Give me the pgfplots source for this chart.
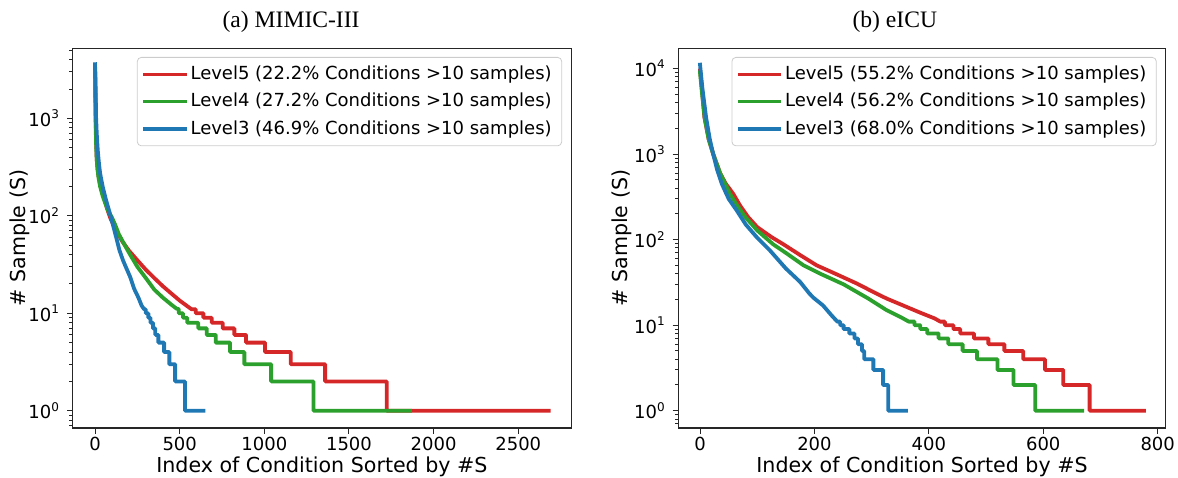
\documentclass[border=0pt]{standalone}
\usepackage{fontspec}
\setmainfont{DejaVu Sans}
\newfontfamily\timesfont{Liberation Serif}
\usepackage{pgfplots}
\pgfplotsset{compat=1.18}
\definecolor{mplred}{HTML}{D62728}
\definecolor{mplgreen}{HTML}{2CA02C}
\definecolor{mplblue}{HTML}{1F77B4}
\pgfplotsset{
  myaxis/.style={
    scale only axis,
    height=189.9pt,
    axis line style={black!85, line width=0.6pt},
    every tick/.style={black!85, line width=0.5pt},
    tick align=outside,
    major tick length=2.8pt,
    minor tick length=1.6pt,
    xtick pos=bottom, ytick pos=left,
    /pgf/number format/assume math mode=true,
    /pgf/number format/1000 sep={},
    scaled x ticks=false,
    xticklabel style={font=\fontsize{9}{11}\selectfont, yshift=2pt},
    yticklabel style={font=\fontsize{9}{11}\selectfont},
    xlabel={Index of Condition Sorted by \#S},
    ylabel={\# Sample (S)},
    label style={font=\fontsize{10.3}{12}\selectfont},
    xlabel style={at={(axis description cs:0.5,0)}, anchor=base, yshift=-22.2pt},
    every axis title shift=0pt,
    title style={font=\timesfont\fontsize{11.8}{14}\selectfont, at={(axis description cs:0.5,1)}, anchor=base, yshift=10.5pt},
    legend cell align=left,
    legend style={font=\fontsize{9}{11}\selectfont, at={(axis description cs:1,1)}, anchor=north east, xshift=-4.5pt, yshift=-4.4pt,
      draw=black!20, rounded corners=2pt, fill=white, fill opacity=0.8, text opacity=1,
      inner xsep=3pt, inner ysep=2.2pt, row sep=1.4pt},
    legend image code/.code={\draw[##1, line width=1.6pt] (0pt,0pt) -- (20pt,0pt);},
    every axis plot/.append style={line width=1.9pt, line join=round, line cap=rect},
  }
}
\begin{document}
\begin{tikzpicture}
\begin{axis}[ymode=log, myaxis,
  width=249.2pt,
  at={(0pt,0pt)},
  xmin=-132, xmax=2812,
  ymin=0.665, ymax=5250,
  xtick={0,500,1000,1500,2000,2500},
  ytick={1,10,100,1000},
  yticklabels={10\textsuperscript{0},10\textsuperscript{1},10\textsuperscript{2},10\textsuperscript{3}},
  minor ytick={0.7,0.8,0.9,2,3,4,5,6,7,8,9,20,30,40,50,60,70,80,90,200,300,400,500,600,700,800,900,2000,3000,4000,5000},
  ylabel style={at={(axis description cs:-0.1055,0.5)}, anchor=center},
  title style={xshift=-15.4pt},
  title={(a) MIMIC-III},
]
\addplot[mplred] coordinates {
(0,3400) (1,2400) (2,1700) (3,1200) (5,800) (7,550) (10,380) (15,300) (20,260) (30,210) (40,180) (55,150) (70,120) (90,95) (110,80) (130,68) (160,55) (200,44) (250,35) (300,28) (350,23) (400,19) (450,16) (500,13.5) (540,12) (570,11) (595,11)
(595,10) (640,10) (640,9) (689,9) (689,8) (754,8) (754,7) (823,7) (823,6) (892,6) (892,5) (1004,5) (1004,4) (1156,4) (1156,3) (1359,3) (1359,2) (1723,2) (1723,1) (2680,1)
};
\addlegendentry{Level5 (22.2\% Conditions >10 samples)}
\addplot[mplgreen] coordinates {
(0,3500) (1,2200) (2,1500) (4,800) (7,500) (10,380) (15,300) (20,250) (30,200) (45,160) (60,135) (80,110) (100,96) (120,80) (140,65) (170,52) (200,42) (250,30) (300,23) (350,17.5) (400,14.5) (450,12.3) (480,11.2) (495,11)
(495,10) (520,10) (520,9) (545,9) (545,8) (610,8) (610,7) (660,7) (660,6) (713,6) (713,5) (797,5) (797,4) (882,4) (882,3) (1040,3) (1040,2) (1290,2) (1290,1) (1860,1)
};
\addlegendentry{Level4 (27.2\% Conditions >10 samples)}
\addplot[mplblue] coordinates {
(0,3600) (1,2900) (3,2290) (6,1035) (10,700) (16,470) (22,360) (30,272) (45,200) (65,145) (85,110) (104,83) (125,60) (144,44.5) (165,35) (185,29) (207,23.7) (230,18) (256,14.5) (275,12) (290,11) (300,11)
(300,10) (315,10) (315,9) (328,9) (328,8) (342,8) (342,7) (356,7) (356,6) (374,6) (374,5) (408,5) (408,4) (439,4) (439,3) (473,3) (473,2) (531,2) (531,1) (640,1)
};
\addlegendentry{Level3 (46.9\% Conditions >10 samples)}
\end{axis}
\begin{axis}[ymode=log, myaxis,
  width=243.7pt,
  at={(302.8pt,0pt)},
  xmin=-38, xmax=814,
  ymin=0.628, ymax=17300,
  xtick={0,200,400,600,800},
  ytick={1,10,100,1000,10000},
  yticklabels={10\textsuperscript{0},10\textsuperscript{1},10\textsuperscript{2},10\textsuperscript{3},10\textsuperscript{4}},
  minor ytick={0.7,0.8,0.9,2,3,4,5,6,7,8,9,20,30,40,50,60,70,80,90,200,300,400,500,600,700,800,900,2000,3000,4000,5000,6000,7000,8000,9000},
  ylabel style={at={(axis description cs:-0.115,0.5)}, anchor=center},
  title style={xshift=-13.6pt},
  title={(b) eICU},
]
\addplot[mplred] coordinates {
(0,9500) (3,6000) (7.6,2700) (15,1500) (23,1000) (35,600) (45,450) (58,344) (70,250) (84,184) (100,140) (125,107) (146,88) (175,66) (204,50) (240,39) (274,30.7) (300,25) (326,20.5) (355,17) (385,14) (410,12) (420,11) (428,11)
(428,10) (443,10) (443,9) (455,9) (455,8) (479,8) (479,7) (504,7) (504,6) (532,6) (532,5) (565,5) (565,4) (603,4) (603,3) (635,3) (635,2) (681,2) (681,1) (776,1)
};
\addlegendentry{Level5 (55.2\% Conditions >10 samples)}
\addplot[mplgreen] coordinates {
(0,9000) (3,5500) (8,2700) (15,1500) (23,1000) (35,600) (44,450) (52,344) (65,250) (79,184) (100,128) (128,88) (150,70) (181,50) (210,40) (251,30) (294,20.5) (326,15) (350,12.5) (365,11) (375,11)
(375,10) (385,10) (385,9) (397,9) (397,8) (417,8) (417,7) (434,7) (434,6) (459,6) (459,5) (484,5) (484,4) (520,4) (520,3) (548,3) (548,2) (586,2) (586,1) (668,1)
};
\addlegendentry{Level4 (56.2\% Conditions >10 samples)}
\addplot[mplblue] coordinates {
(0,11100) (4,6000) (10.5,2700) (17,1500) (23,1000) (30,650) (38,450) (50,300) (64,220) (80,150) (99,107) (122,75) (150,46) (175,32) (191,23.5) (198,21) (215,17) (230,13) (240,11) (245,11)
(245,10) (251,10) (251,9) (261,9) (261,8) (270,8) (270,7) (276,7) (276,6) (283,6) (283,5) (287,5) (287,4) (303,4) (303,3) (320,3) (320,2) (329,2) (329,1) (360,1)
};
\addlegendentry{Level3 (68.0\% Conditions >10 samples)}
\end{axis}
\pgfresetboundingbox
\useasboundingbox (-36.35pt,-24.5pt) rectangle (552.65pt,214pt);
\end{tikzpicture}
\end{document}
